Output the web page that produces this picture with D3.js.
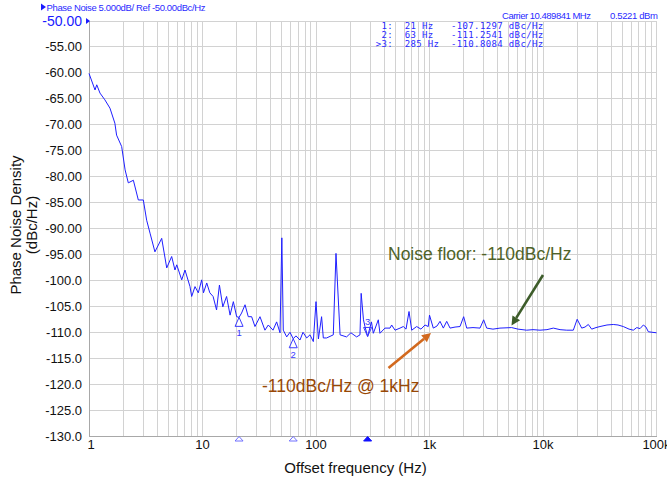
<!DOCTYPE html>
<html><head><meta charset="utf-8">
<script src="https://cdn.jsdelivr.net/npm/d3@7/dist/d3.min.js"></script>
<style>html,body{margin:0;padding:0;background:#fff;}svg{display:block;}</style>
</head><body>
<svg id="c" width="667" height="479"></svg>
<script>
// ---- data ----
const freqHz = [1.0,1.13,1.17,1.25,1.38,1.53,1.69,1.75,1.94,2.08,2.22,2.46,2.72,3.01,3.22,3.45,3.81,4.37,4.84,5.35,5.72,5.93,6.56,7.01,7.76,8.03,8.59,9.18,9.84,10.2,10.9,11.6,12.4,13.3,14.1,15.1,16.3,17.5,18.7,20.0,21,22.1,23.7,25.3,27.1,29.0,32.1,35.5,38.0,41.8,45.0,48.2,50,51.5,55.2,59.0,63,66.6,72.3,76.8,82.8,88.5,94.7,100,105,112,116,124,142,150,163,186,203,228,244,250,262,270,285,308,320,354,366,405,449,464,497,550,588,621,660,697,771,841,913,975,1000,1080,1164,1238,1324,1418,1517,1679,1857,2000,2128,2417,2786,3000,3190,3624,4178,5297,6026,7180,8166,9410,10840,12330,14130,16180,18500,20000,21930,23440,25080,26850,29300,31770,36620,41600,45800,51000,57300,62500,67000,71600,76600,80800,84700,91300,100000];
const noiseDbc = [-60.1,-63.3,-62.3,-63.9,-65.2,-66.8,-69.7,-72.0,-74.2,-78.7,-81.2,-80.7,-84.5,-84.5,-88.4,-90.9,-94.5,-91.9,-97.6,-95.4,-98.0,-97.0,-99.9,-98.0,-101.2,-103.1,-101.2,-102.4,-99.9,-102.4,-100.5,-102.4,-103.1,-105.7,-100.9,-105.1,-103.1,-106.7,-104.1,-107.0,-107.13,-106.3,-104.7,-107.0,-107.0,-108.9,-107.0,-109.6,-108.6,-109.6,-108.0,-110.1,-91.8,-109.6,-110.9,-110.0,-111.25,-110.7,-111.5,-110.0,-111.1,-110.5,-111.8,-104.1,-111.3,-107.0,-111.1,-111.1,-110.5,-94.8,-110.5,-110.9,-110.1,-110.9,-110.5,-102.5,-107.6,-108.9,-110.81,-108.0,-110.2,-107.6,-110.2,-109.2,-109.2,-108.6,-109.6,-109.2,-108.9,-109.4,-106.0,-109.6,-108.9,-109.4,-108.6,-108.9,-106.7,-109.2,-108.8,-107.9,-109.2,-107.9,-109.2,-109.0,-108.9,-107.0,-109.2,-109.1,-109.2,-107.6,-109.2,-109.4,-109.2,-109.1,-109.4,-109.6,-109.5,-109.6,-109.5,-109.2,-109.5,-109.6,-109.6,-107.5,-109.2,-109.0,-108.5,-109.4,-109.1,-108.9,-108.6,-108.5,-108.6,-108.9,-109.4,-109.6,-109.1,-109.3,-108.6,-109.0,-109.9,-110.0,-110.1];

const markerNames = ["1","2","3"];
const markerFreq = [21,63,285];
const markerVal = [-107.1297,-111.2541,-110.8084];
const activeMarker = 2;

const yTickValues = [-50,-55,-60,-65,-70,-75,-80,-85,-90,-95,-100,-105,-110,-115,-120,-125,-130];
const yTickLabels = ["-50.00","-55.00","-60.00","-65.00","-70.00","-75.00","-80.00","-85.00","-90.00","-95.00","-100.0","-105.0","-110.0","-115.0","-120.0","-125.0","-130.0"];
const xTickValues = [1,10,100,1000,10000,100000];
const xTickLabels = ["1","10","100","1k","10k","100k"];

// ---- layout ----
const L = 89, R = 656.5, T = 21, B = 436;
const svg = d3.select("#c");
const x = d3.scaleLog().domain([1,1e5]).range([L,R]);
const y = d3.scaleLinear().domain([-130,-50]).range([B,T]);
const blue = "#1f1fff";
const font = "Liberation Sans, Arial, sans-serif";

// grid
const minor = [];
for (let d=1; d<1e5; d*=10) for (let k=1;k<10;k++) minor.push(d*k);
minor.push(1e5);
svg.append("g").selectAll("line").data(minor).join("line")
  .attr("x1",d=>x(d)).attr("x2",d=>x(d)).attr("y1",T).attr("y2",B)
  .attr("stroke","#d2d2d2").attr("stroke-width",1).attr("shape-rendering","crispEdges");
svg.append("g").selectAll("line").data(yTickValues).join("line")
  .attr("x1",L).attr("x2",R).attr("y1",d=>y(d)).attr("y2",d=>y(d))
  .attr("stroke","#d2d2d2").attr("stroke-width",1).attr("shape-rendering","crispEdges");

// axes lines
svg.append("line").attr("x1",L).attr("x2",L).attr("y1",T).attr("y2",B+1)
  .attr("stroke","#a8a8a8").attr("shape-rendering","crispEdges");
svg.append("line").attr("x1",L).attr("x2",R).attr("y1",B).attr("y2",B)
  .attr("stroke","#a8a8a8").attr("shape-rendering","crispEdges");

// y tick labels
svg.append("g").selectAll("text").data(yTickValues).join("text")
  .attr("x",82).attr("y",d=>y(d)+4.5).attr("text-anchor","end")
  .attr("font-family",font).attr("font-size",d=>d===-50?14:13)
  .attr("fill",d=>d===-50?"#1a1aff":"#111")
  .text((d,i)=>yTickLabels[i]);
// ref level marker
svg.append("path").attr("d",`M${L-3},${T-3}L${L+1},${T}L${L-3},${T+3}Z`).attr("fill","#1a1aff");

// x tick labels
svg.append("g").selectAll("text").data(xTickValues).join("text")
  .attr("x",d=>x(d)+(d===1?2:0)).attr("y",449).attr("text-anchor","middle")
  .attr("font-family",font).attr("font-size",13).attr("fill","#111")
  .text((d,i)=>xTickLabels[i]);

// axis titles
svg.append("text").attr("x",355.5).attr("y",473).attr("text-anchor","middle")
  .attr("font-family",font).attr("font-size",15).attr("fill","#111").text("Offset frequency (Hz)");
svg.append("text").attr("transform","translate(20.5,225) rotate(-90)").attr("text-anchor","middle")
  .attr("font-family",font).attr("font-size",15).attr("fill","#111").text("Phase Noise Density");
svg.append("text").attr("transform","translate(37,225) rotate(-90)").attr("text-anchor","middle")
  .attr("font-family",font).attr("font-size",15).attr("fill","#111").text("(dBc/Hz)");

// header texts
svg.append("path").attr("d","M41,3.5L46,7L41,10.5Z").attr("fill","#1a1aff");
svg.append("text").attr("x",46.5).attr("y",10.5).attr("font-family",font).attr("font-size",9.5)
  .attr("fill","#2a2aff").attr("textLength",159).text("Phase Noise 5.000dB/ Ref -50.00dBc/Hz");
svg.append("text").attr("x",502).attr("y",18.5).attr("font-family",font).attr("font-size",9.5)
  .attr("fill","#2a2aff").attr("textLength",89).text("Carrier 10.489841 MHz");
svg.append("text").attr("x",610).attr("y",18.5).attr("font-family",font).attr("font-size",9.5)
  .attr("fill","#2a2aff").attr("textLength",48).text("0.5221 dBm");

// marker table
const rows = markerNames.map((n,i)=>{
  const pre = (i===activeMarker?">":" ")+n+":";
  const fs = String(markerFreq[i])+" Hz";
  return pre+"  "+fs.padEnd(8," ")+markerVal[i].toFixed(4)+" dBc/Hz";
});
svg.append("g").selectAll("text").data(rows).join("text")
  .attr("x",375.7).attr("y",(d,i)=>29+i*8.8)
  .attr("font-family","DejaVu Sans Mono, monospace").attr("font-size",9)
  .attr("textLength",167.5)
  .attr("fill","#2a2aff").style("white-space","pre").text(d=>d);

// curve
const pts = freqHz.map((f,i)=>({f, v:noiseDbc[i]}));
svg.append("path").datum(pts)
  .attr("d",d3.line().x(d=>x(d.f)).y(d=>y(d.v)))
  .attr("fill","none").attr("stroke",blue).attr("stroke-width",1).attr("stroke-linejoin","round");

// markers on trace
markerFreq.forEach((f,i)=>{
  const mx = x(f), my = y(markerVal[i]);
  const g = svg.append("g");
  if (i===activeMarker){
    g.append("path").attr("d",`M${mx},${my}L${mx-4},${my-9}L${mx+4},${my-9}Z`)
      .attr("fill","none").attr("stroke","#3a3aff").attr("stroke-width",1);
    g.append("text").attr("x",mx).attr("y",my-11).attr("text-anchor","middle")
      .attr("font-family",font).attr("font-size",9.5).attr("fill","#3a3aff").text(markerNames[i]);
  } else {
    g.append("path").attr("d",`M${mx},${my}L${mx-4},${my+9}L${mx+4},${my+9}Z`)
      .attr("fill","none").attr("stroke","#3a3aff").attr("stroke-width",1);
    g.append("text").attr("x",mx).attr("y",my+19).attr("text-anchor","middle")
      .attr("font-family",font).attr("font-size",9.5).attr("fill","#3a3aff").text(markerNames[i]);
  }
  // stimulus markers below axis
  svg.append("path").attr("d",`M${mx},${B+0.5}L${mx-4},${B+5}L${mx+4},${B+5}Z`)
    .attr("fill",i===activeMarker?"#1010ff":"none").attr("stroke",i===activeMarker?"#1010ff":"#7070ff").attr("stroke-width",1);
});

// annotations
function arrow(x1,y1,x2,y2,color){
  const a = Math.atan2(y2-y1,x2-x1), len=9, w=4.5;
  const bx = x2-len*Math.cos(a), by = y2-len*Math.sin(a);
  svg.append("line").attr("x1",x1).attr("y1",y1).attr("x2",bx).attr("y2",by)
    .attr("stroke",color).attr("stroke-width",2.6);
  svg.append("path").attr("d",`M${x2},${y2}L${bx+w*Math.sin(a)},${by-w*Math.cos(a)}L${bx-w*Math.sin(a)},${by+w*Math.cos(a)}Z`)
    .attr("fill",color);
}
arrow(543,275,511.5,325.5,"#3d5c2a");
arrow(388.5,368,431,333,"#d2691e");
svg.append("text").attr("x",388).attr("y",259.5).attr("font-family",font).attr("font-size",17.5)
  .attr("fill","#4f6228").text("Noise floor: -110dBc/Hz");
svg.append("text").attr("x",262).attr("y",391.5).attr("font-family",font).attr("font-size",17.5)
  .attr("fill","#984806").text("-110dBc/Hz @ 1kHz");
</script>
</body></html>
